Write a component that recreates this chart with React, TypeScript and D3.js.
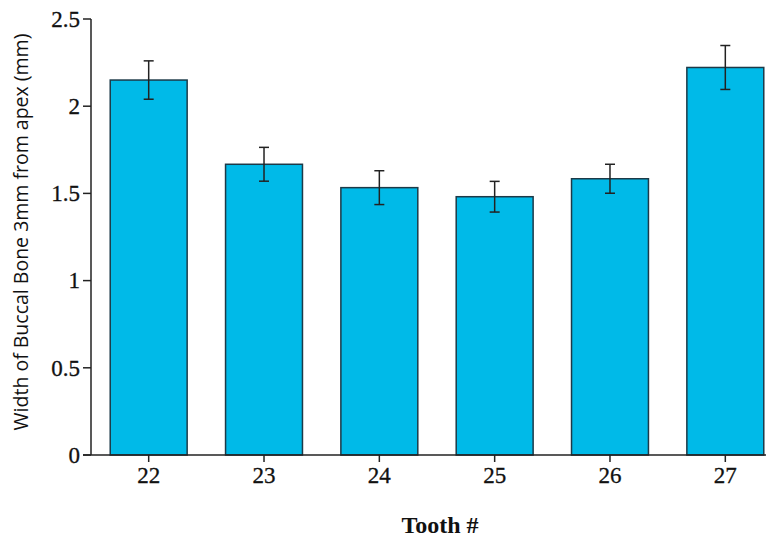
import React from "react";
import * as d3 from "d3";

const categories = ["22", "23", "24", "25", "26", "27"];
const means = [2.15, 1.667, 1.533, 1.481, 1.584, 2.222];
const errors = [0.11, 0.097, 0.097, 0.088, 0.083, 0.126];
const yTicks = [0, 0.5, 1, 1.5, 2, 2.5];
const yTickLabels = ["0", "0.5", "1", "1.5", "2", "2.5"];

const W = 766;
const H = 539;

export default function App() {
  const x = d3
    .scaleBand<string>()
    .domain(categories)
    .range([91, 783])
    .paddingInner(0.333)
    .paddingOuter(0.1667);
  const y = d3.scaleLinear().domain([0, 2.5]).range([455, 19]);
  const axisColor = "#222";
  const serif = "'Liberation Serif', 'Times New Roman', serif";

  return (
    <svg
      width={W}
      height={H}
      style={{ position: "absolute", left: 0, top: 0, background: "#fff" }}
    >
      {/* bars */}
      {categories.map((c, i) => (
        <rect
          key={"b" + c}
          x={x(c)!}
          y={y(means[i])}
          width={x.bandwidth()}
          height={y(0) - y(means[i])}
          fill="#00BAE8"
          stroke="#1c3a48"
          strokeWidth={1.5}
        />
      ))}
      {/* error bars */}
      {categories.map((c, i) => {
        const cx = x(c)! + x.bandwidth() / 2;
        const top = y(means[i] + errors[i]);
        const bot = y(means[i] - errors[i]);
        return (
          <g key={"e" + c} stroke="#222" strokeWidth={1.5}>
            <line x1={cx} x2={cx} y1={top} y2={bot} />
            <line x1={cx - 5} x2={cx + 5} y1={top} y2={top} />
            <line x1={cx - 5} x2={cx + 5} y1={bot} y2={bot} />
          </g>
        );
      })}
      {/* y axis */}
      <line x1={91} x2={91} y1={y(2.5)} y2={y(0)} stroke={axisColor} strokeWidth={1.5} />
      {yTicks.map((t, i) => (
        <g key={"yt" + t}>
          <line x1={83} x2={91} y1={y(t)} y2={y(t)} stroke={axisColor} strokeWidth={1.5} />
          <text
            x={80}
            y={y(t)}
            dy="0.34em"
            textAnchor="end"
            fontFamily={serif}
            fontSize={23}
            fill="#111"
            stroke="#111"
            strokeWidth={0.3}
          >
            {yTickLabels[i]}
          </text>
        </g>
      ))}
      {/* x axis */}
      <line x1={83} x2={W} y1={y(0)} y2={y(0)} stroke={axisColor} strokeWidth={1.5} />
      {categories.map((c) => {
        const cx = x(c)! + x.bandwidth() / 2;
        return (
          <g key={"xt" + c}>
            <line x1={cx} x2={cx} y1={y(0)} y2={y(0) + 7} stroke={axisColor} strokeWidth={1.5} />
            <text
              x={cx}
              y={483}
              textAnchor="middle"
              fontFamily={serif}
              fontSize={23}
              fill="#111"
              stroke="#111"
              strokeWidth={0.3}
            >
              {c}
            </text>
          </g>
        );
      })}
      {/* axis titles */}
      <text
        x={440}
        y={533}
        textAnchor="middle"
        fontFamily={serif}
        fontWeight="bold"
        fontSize={24}
        fill="#111"
      >
        Tooth #
      </text>
      <text
        transform={`translate(28, 232) rotate(-90)`}
        textAnchor="middle"
        fontFamily="'Open Sans', 'DejaVu Sans', sans-serif"
        fontSize={19.5}
        fill="#111"
      >
        Width of Buccal Bone 3mm from apex (mm)
      </text>
    </svg>
  );
}
